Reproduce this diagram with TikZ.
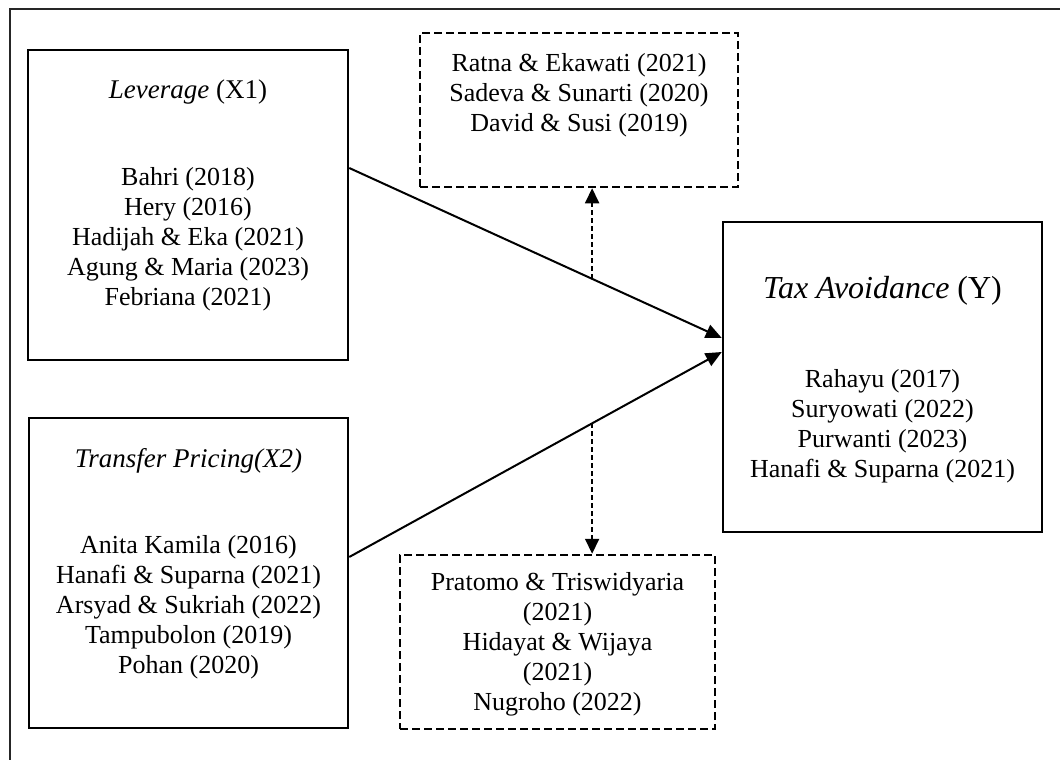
\documentclass[tikz,border=0pt]{standalone}
\usepackage{fontspec}
\setmainfont{Liberation Serif}
\usetikzlibrary{arrows.meta,calc}
\begin{document}
\begin{tikzpicture}[x=1pt,y=-1pt,
  sbox/.style={draw, line width=2.5pt, inner sep=0pt},
  dbox/.style={draw, line width=2.5pt, inner sep=0pt, dash pattern=on 8pt off 4pt},
  txt/.style={inner sep=0pt, font=\fontsize{26}{30}\selectfont},
  ttl/.style={inner sep=0pt, font=\fontsize{27}{30}\selectfont},
  bigttl/.style={inner sep=0pt, font=\fontsize{32}{36}\selectfont},
  arr/.style={line width=2pt, -{Triangle[length=16pt,width=14pt]}},
  darr/.style={line width=2pt, dash pattern=on 5pt off 3pt, -{Triangle[length=15pt,width=14pt]}},
  frame/.style={line width=2pt, black!85}]
\useasboundingbox (0,0) rectangle (1060,760);
% outer frame (left and top only)
\coordinate (fbl) at (9.5,760);
\coordinate (ftl) at (9.5,9.5);
\coordinate (ftr) at (1060,9.5);
\draw[frame] (fbl) -- (ftl) -- (ftr);
% boxes
\node[sbox, minimum width=320, minimum height=310] (lev) at (188,205) {};
\node[sbox, minimum width=319, minimum height=310] (tra) at (188.5,573) {};
\node[sbox, minimum width=319, minimum height=310] (tax) at (882.5,377) {};
\node[dbox, minimum width=318, minimum height=154] (top) at (579,110) {};
\node[dbox, minimum width=315, minimum height=174] (bot) at (557.5,642) {};
% texts
\node[ttl, anchor=base] (levt) at (188,99) {\textit{Leverage} (X1)};
\foreach \t [count=\i from 0] in {{Bahri (2018)},{Hery (2016)},{Hadijah \& Eka (2021)},{Agung \& Maria (2023)},{Febriana (2021)}}
  \node[txt, anchor=base] (lev\i) at (188,185+30*\i) {\t};
\node[ttl, anchor=base] (trat) at (188.5,467) {\textit{Transfer Pricing(X2)}};
\foreach \t [count=\i from 0] in {{Anita Kamila (2016)},{Hanafi \& Suparna (2021)},{Arsyad \& Sukriah (2022)},{Tampubolon (2019)},{Pohan (2020)}}
  \node[txt, anchor=base] (tra\i) at (188.5,553+30*\i) {\t};
\node[bigttl, anchor=base] (taxt) at (882.5,298) {\textit{Tax Avoidance} (Y)};
\foreach \t [count=\i from 0] in {{Rahayu (2017)},{Suryowati (2022)},{Purwanti (2023)},{Hanafi \& Suparna (2021)}}
  \node[txt, anchor=base] (tax\i) at (882.5,387+30*\i) {\t};
\foreach \t [count=\i from 0] in {{Ratna \& Ekawati (2021)},{Sadeva \& Sunarti (2020)},{David \& Susi (2019)}}
  \node[txt, anchor=base] (top\i) at (579,71+30*\i) {\t};
\foreach \t [count=\i from 0] in {{Pratomo \& Triswidyaria},{(2021)},{Hidayat \& Wijaya},{(2021)},{Nugroho (2022)}}
  \node[txt, anchor=base] (bot\i) at (557.5,590+30*\i) {\t};
% connectors
\coordinate (s1) at (lev.east |- 0,168);
\coordinate (e1) at (tax.west |- 0,338);
\coordinate (s2) at (tra.east |- 0,557);
\coordinate (e2) at (tax.west |- 0,352);
\draw[arr] (s1) -- (e1);
\draw[arr] (s2) -- (e2);
\coordinate (m1) at ($(s1)!0.652!(e1)$);
\coordinate (m2) at ($(s2)!0.652!(e2)$);
\draw[darr] (m1) -- (m1 |- top.south);
\draw[darr] (m2) -- (m2 |- bot.north);
\end{tikzpicture}
\end{document}
